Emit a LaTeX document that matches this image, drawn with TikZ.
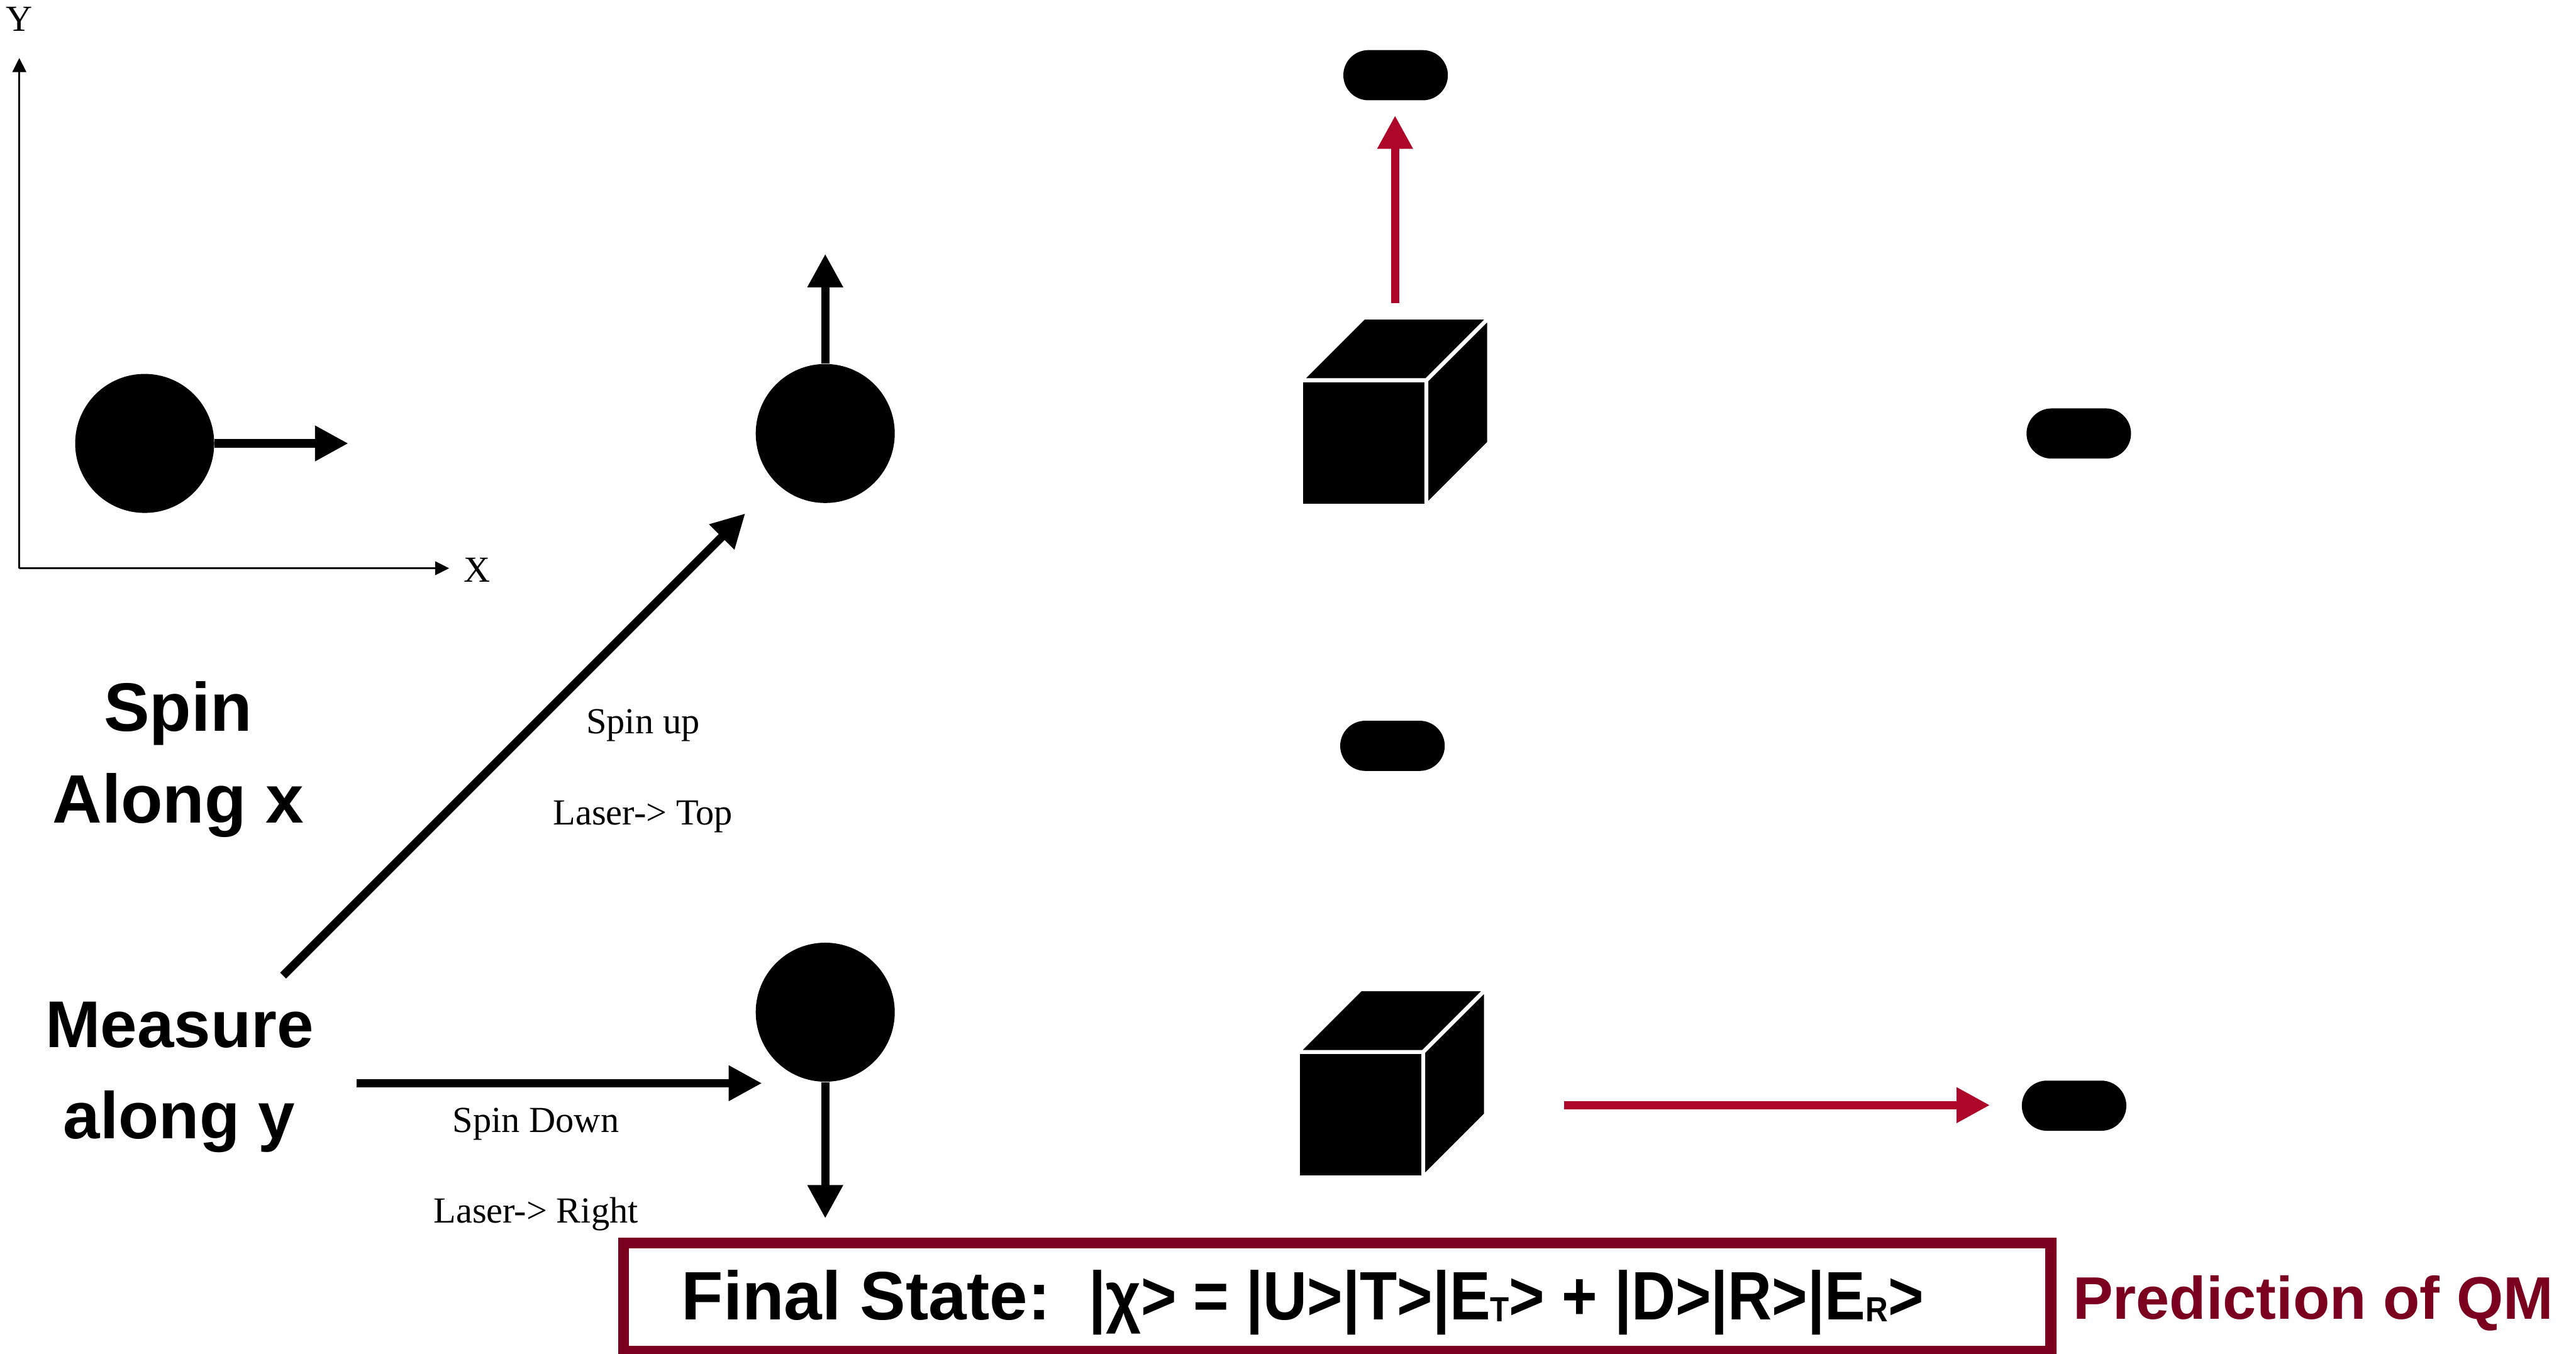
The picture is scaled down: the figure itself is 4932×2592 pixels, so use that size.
\documentclass[tikz,border=0pt]{standalone}
\usepackage{fontspec}
\usepackage{graphicx}
\setmainfont{Liberation Serif}
\setsansfont{Liberation Sans}
\usetikzlibrary{arrows.meta,shapes.misc}
\definecolor{maroon}{HTML}{7B0020}
\definecolor{signal}{HTML}{AD0629}
\newcommand{\lowsub}[1]{\raisebox{-0.04cm}{\fontsize{19pt}{19pt}\selectfont #1}}
\begin{document}
\begin{tikzpicture}[x=0.01cm,y=-0.01cm,
  ball/.style={circle,fill=black,minimum size=2.66cm,inner sep=0pt},
  pill/.style={rounded rectangle,fill=black,minimum width=2cm,minimum height=0.96cm,inner sep=0pt},
  fat arrow/.style={line width=0.16cm,-{Triangle[length=0.64cm,width=0.64cm]}},
  axis/.style={line width=0.04cm,-{Triangle[length=0.27cm,width=0.26cm]}},
  small/.style={font=\fontsize{20pt}{24pt}\selectfont,inner sep=0pt},
  big/.style={font=\sffamily\bfseries\fontsize{37.3pt}{45pt}\selectfont,inner sep=0pt},
  bigger/.style={font=\sffamily\bfseries\fontsize{36pt}{44pt}\selectfont,inner sep=0pt},
  face/.style={fill=black,draw=white,line width=0.075cm,line join=round},
  pics/cube/.style={code={
    \path[face] (-120,-120) rectangle (120,120);
    \path[face] (-120,-120) -- (120,-120) -- (240,-240) -- (0,-240) -- cycle;
    \path[face] (120,-120) -- (240,-240) -- (240,0) -- (120,120) -- cycle;
  }},
]
\useasboundingbox (0,0) rectangle (4932,2592);

% coordinate axes
\coordinate (origin) at (37,1088);
\coordinate (ytip) at (37,111);
\coordinate (xtip) at (860,1088);
\draw[axis] (origin) -- (ytip);
\draw[axis] (origin) -- (xtip);
\node[small,anchor=base] (ylab) at (37,60) {Y};
\node[small,anchor=base] (xlab) at (913,1115) {X};

% initial spin along x
\node[ball] (c1) at (277,849) {};
\coordinate (c1tip) at (667,849);
\draw[fat arrow] (c1.east) -- (c1tip);

% labels on the left
\node[big,anchor=base] (sx1) at (341,1400) {Spin};
\node[big,anchor=base] (sx2) at (341,1576) {Along x};
\node[bigger,anchor=base] (my1) at (344,2006) {Measure};
\node[bigger,anchor=base] (my2) at (343,2180) {along y};

% measurement outcomes
\node[ball] (c2) at (1580,830) {};
\node[ball] (c3) at (1580,1938) {};
\coordinate (c2tip) at (1580,486);
\coordinate (c3tip) at (1580,2333);
\draw[fat arrow] (c2.north) -- (c2tip);
\draw[fat arrow] (c3.south) -- (c3tip);

\coordinate (upfrom) at (542,1868);
\coordinate (upto) at (1427,983);
\draw[fat arrow] (upfrom) -- (upto);
\coordinate (downfrom) at (683,2074);
\coordinate (downto) at (1459,2074);
\draw[fat arrow] (downfrom) -- (downto);

\node[small,anchor=base] (lu1) at (1231,1404) {Spin up};
\node[small,anchor=base] (lu2) at (1231,1579) {Laser-> Top};
\node[small,anchor=base] (ld1) at (1026,2168) {Spin Down};
\node[small,anchor=base] (ld2) at (1026,2341) {Laser-> Right};

% detectors
\pic (cubeT) at (2611,848) {cube};
\pic (cubeR) at (2605,2134) {cube};

% screen spots
\node[pill] (p1) at (2672,144) {};
\node[pill] (p2) at (3980,830) {};
\node[pill] (p3) at (2666,1428) {};
\node[pill] (p4) at (3971,2117) {};

\coordinate (redup0) at (2671,580);
\coordinate (redup1) at (2671,221);
\draw[fat arrow,signal] (redup0) -- (redup1);
\coordinate (redrt0) at (2994,2116);
\coordinate (redrt1) at (3810,2116);
\draw[fat arrow,signal] (redrt0) -- (redrt1);

% final state
\node[draw=maroon,line width=0.21cm,minimum width=27.31cm,minimum height=2.07cm,inner sep=0pt] (box) at (2560,2483.5) {};
\node[big,anchor=base west] (state) at (1304,2527)
  {Final State:\ \ \scalebox{0.89}[1]{|χ> = |U>|T>|E\lowsub{T}> + |D>|R>|E\lowsub{R}>}};
\node[font=\sffamily\bfseries\fontsize{32.7pt}{40pt}\selectfont,text=maroon,anchor=base west,inner sep=0pt] (qm) at (3968,2526) {Prediction of QM};
\end{tikzpicture}
\end{document}
